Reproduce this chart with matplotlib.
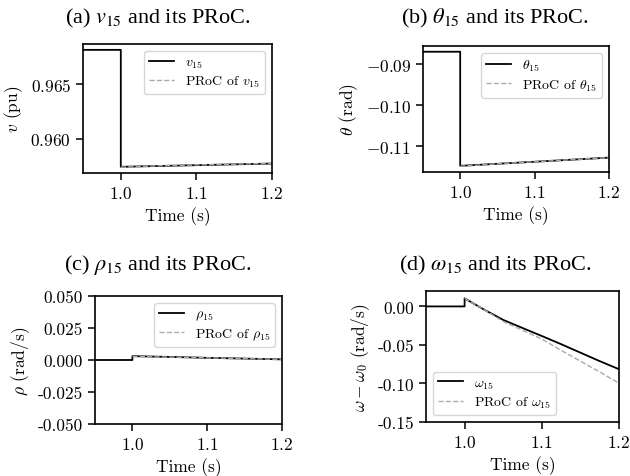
import numpy as np
import matplotlib
matplotlib.use("Agg")
import matplotlib.pyplot as plt

plt.rcParams['font.family'] = 'cmr10'
plt.rcParams['mathtext.fontset'] = 'cm'
plt.rcParams['axes.formatter.use_mathtext'] = True
plt.rcParams['axes.unicode_minus'] = True

# values
t_step = [0.95, 1.0, 1.0, 1.2]
t_after = [1.0, 1.05, 1.1, 1.15, 1.2]

v_sig = [0.96815, 0.96815, 0.95741, 0.95771]
v_proc = [0.95738, 0.95750, 0.95758, 0.95765, 0.95772]

th_sig = [-0.0870, -0.0870, -0.1147, -0.1127]
th_proc = [-0.1148, -0.1142, -0.1137, -0.1132, -0.1127]

rho_t = [0.95, 1.0, 1.0, 1.05, 1.1, 1.15, 1.2]
rho_sig = [0.0, 0.0, 0.0030, 0.0024, 0.0017, 0.0011, 0.0005]
rho_proc = [0.0027, 0.0023, 0.0017, 0.0011, 0.0005]

w_t = [0.95, 1.0, 1.0, 1.025, 1.05, 1.075, 1.1, 1.125, 1.15, 1.175, 1.2]
w_sig = [0.0, 0.0, 0.0105, -0.004, -0.0175, -0.028, -0.0384, -0.049, -0.060, -0.071, -0.0815]
w_proc_t = [1.0, 1.025, 1.05, 1.075, 1.1, 1.125, 1.15, 1.175, 1.2]
w_proc = [0.0105, -0.004, -0.0196, -0.031, -0.0423, -0.057, -0.071, -0.085, -0.0997]

W, H = 630, 477
fig = plt.figure(figsize=(W / 100, H / 100), dpi=100)


def box(l, r, top, bot):
    return [l / W, 1 - bot / H, (r - l) / W, (bot - top) / H]


axes = [
    fig.add_axes(box(83, 272, 45, 174)),
    fig.add_axes(box(423, 609, 47, 173)),
    fig.add_axes(box(95, 282, 297, 425)),
    fig.add_axes(box(426, 619, 292, 423)),
]

sig_kw = dict(color='black', lw=1.3)
proc_kw = dict(color='#aaaaaa', lw=1.0, ls='--')
FS = 12.5

a, b, c, d = axes
a.plot(t_step, v_sig, label=r'$v_{15}$', **sig_kw)
a.plot(t_after, v_proc, label=r'PRoC of $v_{15}$', **proc_kw)
a.set_ylabel(r'$v$ (pu)')
a.set_yticks([0.960, 0.965])

b.plot(t_step, th_sig, label=r'$\theta_{15}$', **sig_kw)
b.plot(t_after, th_proc, label=r'PRoC of $\theta_{15}$', **proc_kw)
b.set_ylabel(r'$\theta$ (rad)')
b.set_yticks([-0.11, -0.10, -0.09])

c.plot(rho_t, rho_sig, label=r'$\rho_{15}$', **sig_kw)
c.plot(t_after, rho_proc, label=r'PRoC of $\rho_{15}$', **proc_kw)
c.set_ylabel(r'$\rho$ (rad/s)')
c.set_ylim(-0.05, 0.05)
c.set_yticks([-0.05, -0.025, 0.0, 0.025, 0.05])
c.yaxis.set_major_formatter(matplotlib.ticker.FormatStrFormatter('%.3f'))

d.plot(w_t, w_sig, label=r'$\omega_{15}$', **sig_kw)
d.plot(w_proc_t, w_proc, label=r'PRoC of $\omega_{15}$', **proc_kw)
d.set_ylabel(r'$\omega - \omega_0$ (rad/s)')
d.set_ylim(-0.15, 0.02)
d.set_yticks([-0.15, -0.10, -0.05, 0.0])
d.yaxis.set_major_formatter(matplotlib.ticker.FormatStrFormatter('%.2f'))

for ax in axes:
    ax.set_xlim(0.95, 1.2)
    ax.set_xticks([1.0, 1.1, 1.2])
    ax.set_xlabel('Time (s)', fontsize=FS)
    ax.yaxis.label.set_size(FS)
    ax.tick_params(labelsize=FS, width=1.1, length=5)
    for s in ax.spines.values():
        s.set_linewidth(1.2)

leg_kw = dict(fontsize=10, handlelength=1.8, labelspacing=0.3, borderpad=0.35)
for ax in (a, b, c):
    ax.legend(loc='upper right', **leg_kw)
d.legend(loc='lower left', **leg_kw)

titles = [
    (158, 18, r'(a) $v_{15}$ and its PRoC.'),
    (495, 18, r'(b) $\theta_{15}$ and its PRoC.'),
    (158, 265, r'(c) $\rho_{15}$ and its PRoC.'),
    (495, 265, r'(d) $\omega_{15}$ and its PRoC.'),
]
for x, y, s in titles:
    fig.text(x / W, 1 - y / H, s, ha='center', va='center', fontsize=16,
             family='Liberation Serif', math_fontfamily='stix')

fig.savefig('out.png', dpi=100)
